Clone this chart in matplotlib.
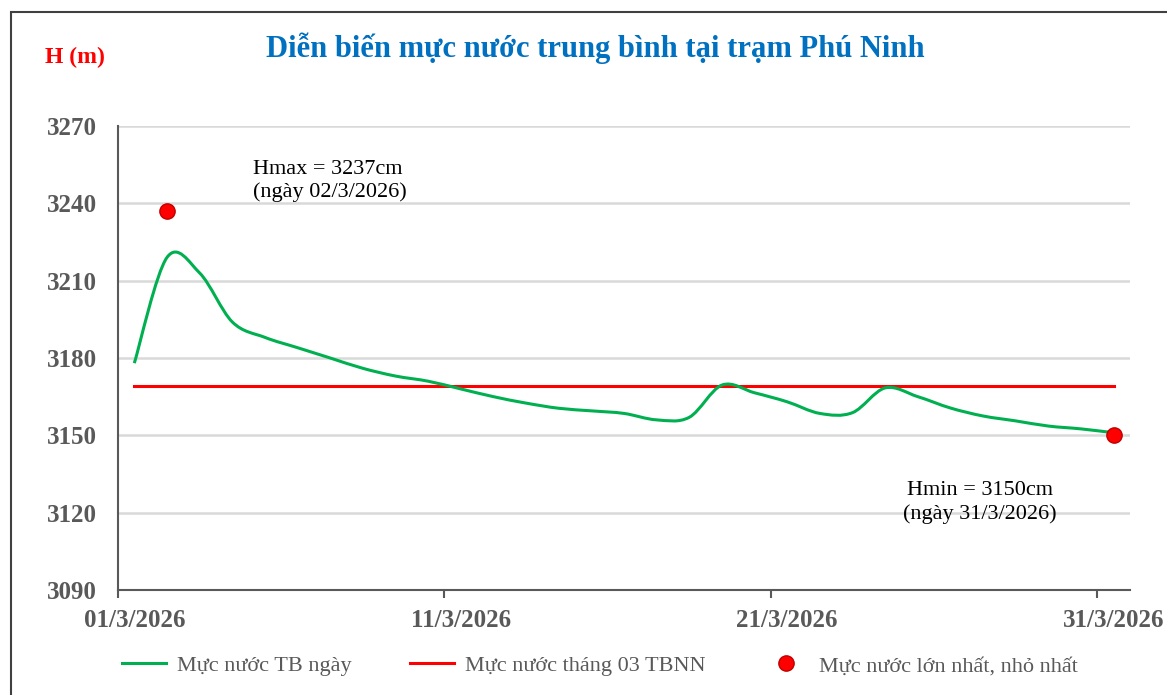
"""Dien bien muc nuoc trung binh tai tram Phu Ninh - thang 3/2026."""

import numpy as np
import matplotlib
matplotlib.use('Agg')
import matplotlib.pyplot as plt
from matplotlib.patches import Rectangle, PathPatch
from matplotlib.path import Path
from matplotlib.lines import Line2D

# data
days = list(range(1, 32))
water_level = [3178, 3219, 3213, 3194, 3188, 3184, 3180, 3176, 3173, 3171,
               3168, 3165, 3162.5, 3160.5, 3159.5, 3158.5, 3156, 3157, 3169.5, 3166.5,
               3163, 3158.5, 3158.8, 3168.4, 3165, 3160.6, 3157.5, 3155.6, 3153.6, 3152.5,
               3151]
tbnn_level = 3169
ext_days = [2, 31]
ext_values = [3237, 3150]
tick_days = [1, 11, 21, 31]
tick_labels = ['01/3/2026', '11/3/2026', '21/3/2026', '31/3/2026']
y_ticks = [3090, 3120, 3150, 3180, 3210, 3240, 3270]

serif = ['Liberation Serif', 'DejaVu Serif']
gray = '#595959'
green = '#00B050'
red = '#FF0000'


def smooth_path(x, y):
    # Excel-like smoothed line: cubic bezier segments through every point
    p = np.column_stack([x, y]).astype(float)
    ext = np.vstack([p[0], p, p[-1]])
    verts = [p[0]]
    codes = [Path.MOVETO]
    for i in range(len(p) - 1):
        p0, p1, p2, p3 = ext[i], ext[i + 1], ext[i + 2], ext[i + 3]
        verts += [p1 + (p2 - p0) / 6, p2 - (p3 - p1) / 6, p2]
        codes += [Path.CURVE4] * 3
    return Path(verts, codes)


fig = plt.figure(figsize=(11.67, 6.95), dpi=100)
ax = fig.add_axes([118/1167, 1 - 590/695, (1130 - 118)/1167, (590 - 126)/695])

# outer frame
fig.patches.append(Rectangle((11/1167, -0.05), 1.2, 1 - 12/695 + 0.05,
                             transform=fig.transFigure, fill=False,
                             edgecolor='#404040', lw=1.5))

ax.add_patch(PathPatch(smooth_path(days, water_level), fill=False,
                       edgecolor=green, lw=2.2, zorder=3))
ax.plot([days[0], days[-1]], [tbnn_level, tbnn_level], color=red, lw=2.2, zorder=2)
ax.plot(ext_days, ext_values, 'o', color=red, markeredgecolor='#C00000',
        markersize=11, zorder=4)

ax.set_xlim(0.5, 31.5)
ax.set_ylim(3090, 3270)
ax.set_yticks(y_ticks)
ax.yaxis.grid(True, color='#D9D9D9', lw=1.8)
ax.set_axisbelow(True)

# tick marks between categories, labels centred on the dates
ax.set_xticks([0.5, 10.5, 20.5, 30.5])
ax.set_xticklabels([])
ax.set_xticks(tick_days, minor=True)
ax.set_xticklabels(tick_labels, minor=True)
ax.tick_params(axis='x', which='major', direction='out', length=6, width=1.5, color=gray)
ax.tick_params(axis='x', which='minor', length=0, pad=14)
ax.tick_params(axis='y', length=0, pad=15)
for lab in ax.get_xticklabels(minor=True) + ax.get_yticklabels():
    lab.set_family(serif)
    lab.set_fontsize(18)
    lab.set_fontweight('bold')
    lab.set_color(gray)

for side in ['top', 'right']:
    ax.spines[side].set_visible(False)
for side in ['left', 'bottom']:
    ax.spines[side].set_color(gray)
    ax.spines[side].set_linewidth(1.5)

ax.text(4.64, 3248.7, 'Hmax = 3237cm\n(ngày 02/3/2026)', family=serif, fontsize=16,
        ha='left', va='center', linespacing=1.25)
ax.text(26.9, 3124, 'Hmin = 3150cm\n(ngày 31/3/2026)', family=serif, fontsize=16,
        ha='center', va='center', linespacing=1.25)

fig.text(595/1167, 1 - 48/695, 'Diễn biến mực nước trung bình tại trạm Phú Ninh',
         family=serif, fontsize=22, fontweight='bold', color='#0070C0',
         ha='center', va='center')
fig.text(45/1167, 1 - 57/695, 'H (m)', family=serif, fontsize=17,
         fontweight='bold', color=red, ha='left', va='center')

handles = [Line2D([], [], color=green, lw=2.2),
           Line2D([], [], color=red, lw=2.2),
           Line2D([], [], ls='none', marker='o', color=red,
                  markeredgecolor='#C00000', markersize=11)]
labels = ['Mực nước TB ngày', 'Mực nước tháng 03 TBNN', 'Mực nước lớn nhất, nhỏ nhất']
leg = fig.legend(handles, labels, loc='center', bbox_to_anchor=(600/1167, 1 - 666/695),
                 ncol=3, frameon=False, prop={'family': serif, 'size': 16},
                 handlelength=2, columnspacing=2.6, handletextpad=0.5)
for t in leg.get_texts():
    t.set_color(gray)

fig.savefig('out.png', dpi=100)
